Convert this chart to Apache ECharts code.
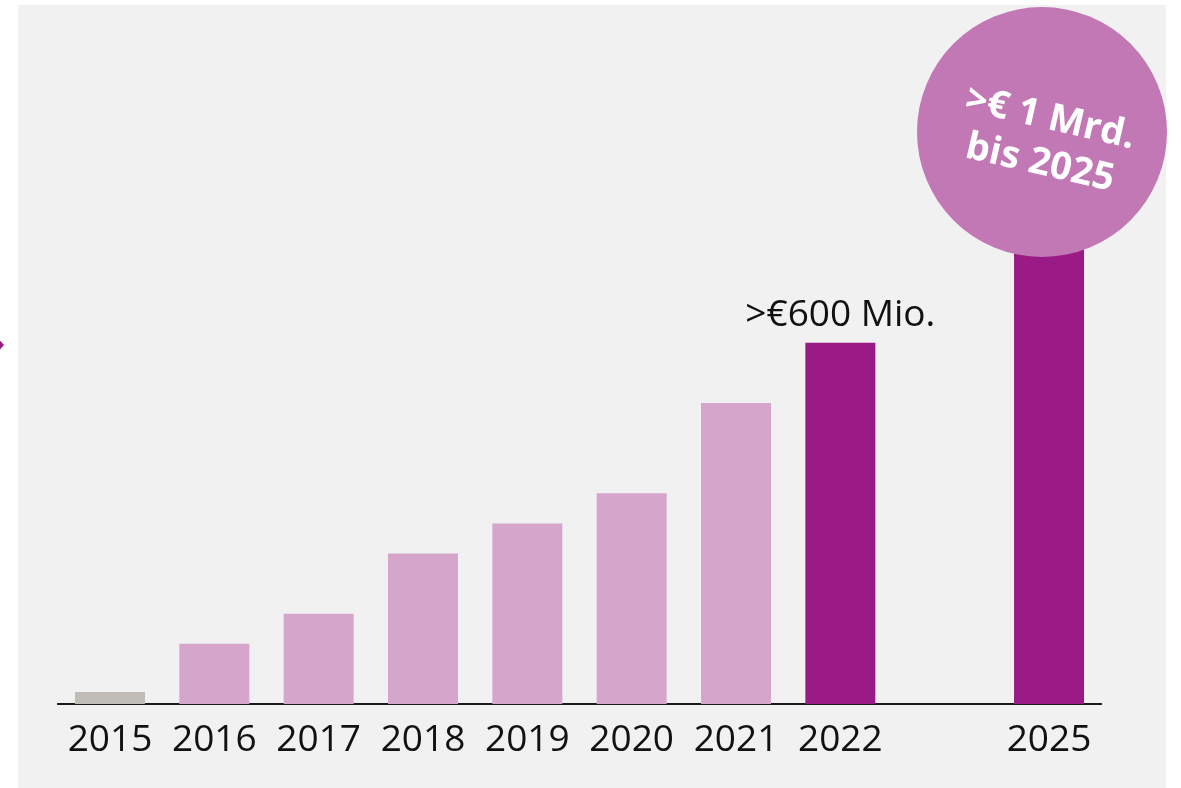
<!DOCTYPE html>
<html>
<head>
<meta charset="utf-8">
<script src="https://cdn.jsdelivr.net/npm/echarts@6/dist/echarts.min.js"></script>
<style>
html,body{margin:0;padding:0;background:#ffffff;}
#chart{width:1181px;height:788px;}
</style>
</head>
<body>
<div id="chart"></div>
<script>
// Data (in Mio. €)
var categories = ['2015', '2016', '2017', '2018', '2019', '2020', '2021', '2022', '', '2025'];
var values = [20, 100, 150, 250, 300, 350, 500, 600, null, 1000];
var barColors = ['#bfbcb7', '#d6a5cc', '#d6a5cc', '#d6a5cc', '#d6a5cc', '#d6a5cc', '#d6a5cc', '#9a1b85', '#9a1b85', '#9a1b85'];
var barLabels = ['', '', '', '', '', '', '', '>€600 Mio.', '', ''];
var bubbleLines = ['>€ 1 Mrd.', 'bis 2025'];

var FONT = '"Open Sans", "Noto Sans", sans-serif';

var seriesData = values.map(function (v, i) {
  var item = { value: v, itemStyle: { color: barColors[i] } };
  if (barLabels[i]) {
    item.label = {
      show: true,
      position: 'top',
      distance: 9,
      formatter: barLabels[i],
      color: '#111111',
      fontSize: 37,
      fontFamily: FONT
    };
  }
  return item;
});

var chart = echarts.init(document.getElementById('chart'), null, { renderer: 'canvas' });
chart.setOption({
  backgroundColor: '#ffffff',
  animation: false,
  grid: { left: 57.8, right: 79.8, top: 102, bottom: 84, containLabel: false },
  xAxis: {
    type: 'category',
    data: categories,
    axisLine: { show: true, lineStyle: { color: '#1a1a1a', width: 2 } },
    axisTick: { show: false },
    axisLabel: { color: '#111111', fontSize: 37, fontFamily: FONT, margin: 18, interval: 0 }
  },
  yAxis: {
    type: 'value',
    min: 0,
    max: 1000,
    show: false,
    splitLine: { show: false }
  },
  series: [{
    type: 'bar',
    data: seriesData,
    barWidth: 70,
    z: 3
  }],
  graphic: [
    {
      type: 'rect',
      shape: { x: 18, y: 5, width: 1148, height: 783 },
      style: { fill: '#f1f1f1' },
      z: -10,
      silent: true
    },
    {
      type: 'polygon',
      shape: { points: [[-5, 335], [4, 345], [-5, 355]] },
      style: { fill: '#9a1b85' },
      z: 5
    },
    {
      type: 'circle',
      shape: { cx: 1042, cy: 132, r: 125 },
      style: { fill: '#c278b5' },
      z: 10
    },
    {
      type: 'group',
      x: 1045,
      y: 141,
      rotation: -13 * Math.PI / 180,
      z: 11,
      children: [
        {
          type: 'text',
          x: 0,
          y: -23,
          style: {
            text: bubbleLines[0],
            fill: '#ffffff',
            font: 'bold 38px ' + FONT,
            align: 'center',
            verticalAlign: 'middle'
          },
          z: 11
        },
        {
          type: 'text',
          x: 0,
          y: 23,
          style: {
            text: bubbleLines[1],
            fill: '#ffffff',
            font: 'bold 38px ' + FONT,
            align: 'center',
            verticalAlign: 'middle'
          },
          z: 11
        }
      ]
    }
  ]
});
</script>
</body>
</html>
